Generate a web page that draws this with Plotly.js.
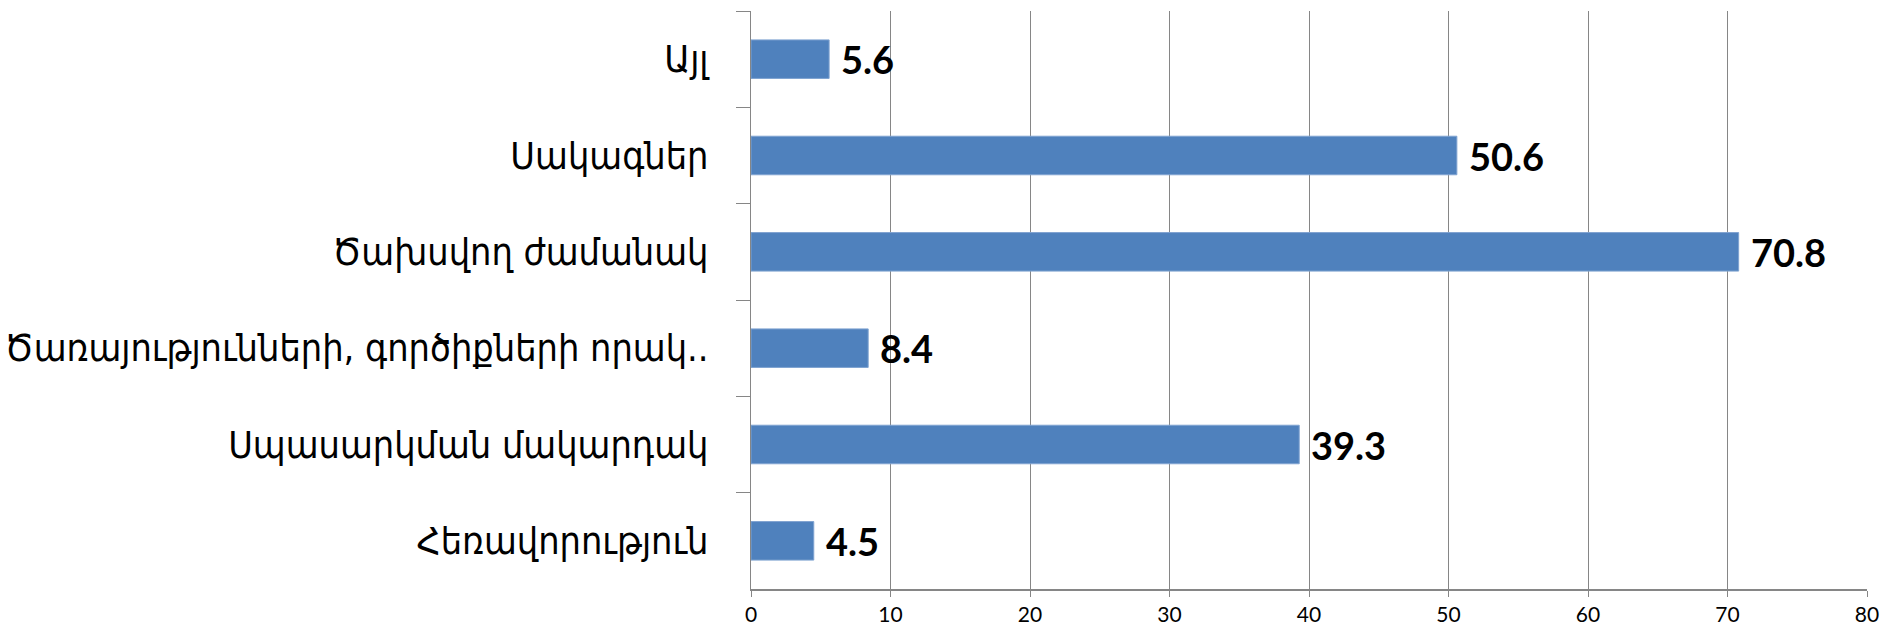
<!DOCTYPE html>
<html>
<head>
<meta charset="utf-8">
<script src="https://cdn.plot.ly/plotly-3.0.1.min.js"></script>
<style>html,body{margin:0;padding:0;background:#fff;}#chart{width:1881px;height:628px;}</style>
</head>
<body>
<div id="chart"></div>
<script>
const categories = [
  "Այլ",
  "Սակագներ",
  "Ծախսվող ժամանակ",
  "Ծառայությունների, գործիքների որակ..",
  "Սպասարկման մակարդակ",
  "Հեռավորություն"
];
const values = [5.6, 50.6, 70.8, 8.4, 39.3, 4.5];
const valueLabels = ["5.6", "50.6", "70.8", "8.4", "39.3", "4.5"];
const xTicks = [0, 10, 20, 30, 40, 50, 60, 70, 80];

const trace = {
  type: "bar",
  orientation: "h",
  y: categories,
  x: values,
  marker: {color: "#4F81BD", line: {color: "#7FA3D1", width: 1}},
  hoverinfo: "none"
};

const annotations = categories.map((c, i) => ({
  x: values[i], y: c, xref: "x", yref: "y",
  text: valueLabels[i], showarrow: false,
  xanchor: "left", yanchor: "middle", xshift: 10,
  font: {family: "Lato, 'Open Sans', sans-serif", size: 38, color: "#000", weight: 700}
}));

const layout = {
  width: 1881, height: 628,
  margin: {l: 751, r: 14, t: 11, b: 39},
  paper_bgcolor: "#fff", plot_bgcolor: "#fff",
  showlegend: false,
  bargap: 0.6,
  xaxis: {
    range: [0, 80], tickvals: xTicks, ticktext: xTicks.map(String),
    showgrid: true, gridcolor: "#868686", gridwidth: 1,
    zeroline: false,
    showline: true, linecolor: "#868686", linewidth: 2,
    ticks: "outside", ticklen: 6, tickcolor: "#868686",
    tickfont: {family: "Lato, sans-serif", size: 21, color: "#000"},
    fixedrange: true
  },
  yaxis: {
    autorange: "reversed",
    showgrid: false, zeroline: false,
    showline: true, linecolor: "#868686", linewidth: 1,
    ticks: "outside", tickson: "boundaries", ticklen: 14, tickcolor: "#868686",
    ticklabelstandoff: 34,
    tickfont: {family: "'DejaVu Sans Condensed', 'DejaVu Sans', sans-serif", size: 37.5, color: "#000"},
    fixedrange: true
  },
  annotations: annotations
};

Plotly.newPlot("chart", [trace], layout, {displayModeBar: false, staticPlot: true});
</script>
</body>
</html>
